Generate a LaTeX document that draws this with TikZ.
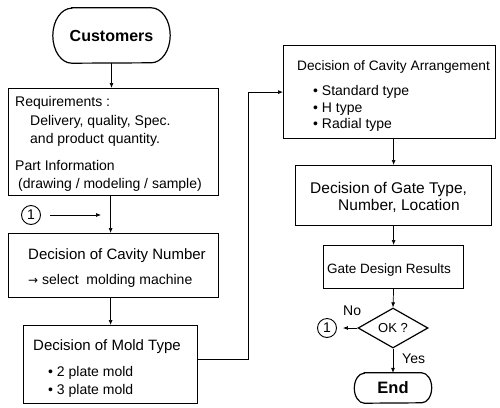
\documentclass[tikz,border=0pt]{standalone}
\usepackage{fontspec}
\setmainfont{Liberation Sans}
\newfontfamily\symfont{DejaVu Sans}
\usetikzlibrary{arrows.meta,shapes.geometric}
\begin{document}
\begin{tikzpicture}[x=1pt,y=-1pt,
  box/.style={draw, line width=1.2pt, inner sep=0pt, anchor=north west},
  txt/.style={anchor=base west, inner sep=0pt, font=\fontsize{14}{16}\selectfont},
  bigtxt/.style={txt, font=\fontsize{15}{17}\selectfont},
  arr/.style={-{Latex[length=5pt,width=4pt]}, line width=0.7pt},
  link/.style={circle, draw, line width=0.9pt, minimum size=19pt, inner sep=0pt,
    font=\fontsize{14}{14}\selectfont},
  outline/.style={line width=1.2pt},
]
\useasboundingbox (0,0) rectangle (500,407);

% start terminal
\node[minimum width=117pt, minimum height=55pt, inner sep=0pt,
  font=\fontsize{16}{18}\selectfont\bfseries] (cust) at (111.5,35.5) {Customers};
\draw[outline] ([xshift=19pt]cust.north west) -- ([xshift=-19pt]cust.north east)
  arc[start angle=90, end angle=-90, x radius=19pt, y radius=27.5pt]
  -- ([xshift=19pt]cust.south west)
  arc[start angle=270, end angle=90, x radius=19pt, y radius=27.5pt] -- cycle;

% requirements
\node[box, minimum width=210pt, minimum height=107pt] (req) at (8,88) {};
\node[txt] (req1) at (15,106) {Requirements :};
\node[txt] (req2) at (30,125) {Delivery, quality, Spec.};
\node[txt] (req3) at (30,143) {and product quantity.};
\node[txt] (req4) at (15,170) {Part Information};
\node[txt] (req5) at (18,188) {(drawing / modeling / sample)};

% cavity number
\node[box, minimum width=210pt, minimum height=64pt] (cav) at (8,233) {};
\node[bigtxt] (cav1) at (28,259) {Decision of Cavity Number};
\node[txt] (cav2) at (28,284) {{\symfont\fontsize{12}{14}\selectfont →} select\ \ molding machine};

% re-entry point
\node[link] (c1) at (31,215) {1};
\coordinate (c1end) at (101,215);

% mold type
\node[box, minimum width=174pt, minimum height=78pt] (mold) at (23,325) {};
\node[bigtxt] (mold1) at (33,350) {Decision of Mold Type};
\node[txt] (mold2) at (48,376) {• 2 plate mold};
\node[txt] (mold3) at (48,394) {• 3 plate mold};

% cavity arrangement
\node[box, minimum width=212pt, minimum height=93pt] (arng) at (283,45) {};
\node[txt, font=\fontsize{13.7}{16}\selectfont] (arng1) at (297,70) {Decision of Cavity Arrangement};
\node[txt] (arng2) at (313,95) {• Standard type};
\node[txt] (arng3) at (313,112) {• H type};
\node[txt] (arng4) at (313,128) {• Radial type};

% gate type
\node[box, minimum width=196pt, minimum height=60pt] (gate) at (295,165) {};
\node[txt, font=\fontsize{15.5}{17}\selectfont] (gate1) at (310,193) {Decision of Gate Type,};
\node[txt, font=\fontsize{15.5}{17}\selectfont] (gate2) at (338,210) {Number, Location};

% gate design results
\node[box, minimum width=140pt, minimum height=43pt] (gdr) at (323,245) {};
\node[txt, font=\fontsize{13.5}{16}\selectfont] (gdr1) at (327,273) {Gate Design Results};

% check
\node[diamond, draw, outline, minimum width=70pt, minimum height=40pt, inner sep=0pt,
  font=\fontsize{13}{15}\selectfont] (ok) at (393,328) {OK ?};
\node[link] (c2) at (327,328) {1};
\node[txt] (no) at (343,315) {No};
\node[txt] (yes) at (402,363) {Yes};

% end terminal
\node[minimum width=77pt, minimum height=30pt, inner sep=0pt,
  font=\fontsize{16.5}{18}\selectfont\bfseries] (end) at (393,388) {End};
\draw[outline] ([xshift=10pt]end.north west) -- ([xshift=-10pt]end.north east)
  arc[start angle=90, end angle=-90, x radius=10pt, y radius=15pt]
  -- ([xshift=10pt]end.south west)
  arc[start angle=270, end angle=90, x radius=10pt, y radius=15pt] -- cycle;

% connectors
\coordinate (bend) at (248,0);
\draw[arr] (cust.south) -- (cust.south |- req.north);
\draw[arr] (req.south -| mold.north) -- (mold.north |- cav.north);
\draw[arr, shorten <=9pt] (c1.east) -- (c1end);
\draw[arr] (cav.south -| mold.north) -- (mold.north);
\draw[arr] ([yshift=5pt]mold.east) -- ([yshift=5pt]mold.east -| bend)
  -- (bend |- arng.west) -- (arng.west);
\draw[arr] (arng.south -| gate.north) -- (gate.north);
\draw[arr] (gate.south) -- (gdr.north);
\draw[arr] (gdr.south) -- (ok.north);
\draw[arr, shorten >=6pt] (ok.west) -- (c2.east);
\draw[arr] (ok.south) -- (end.north);
\end{tikzpicture}
\end{document}
